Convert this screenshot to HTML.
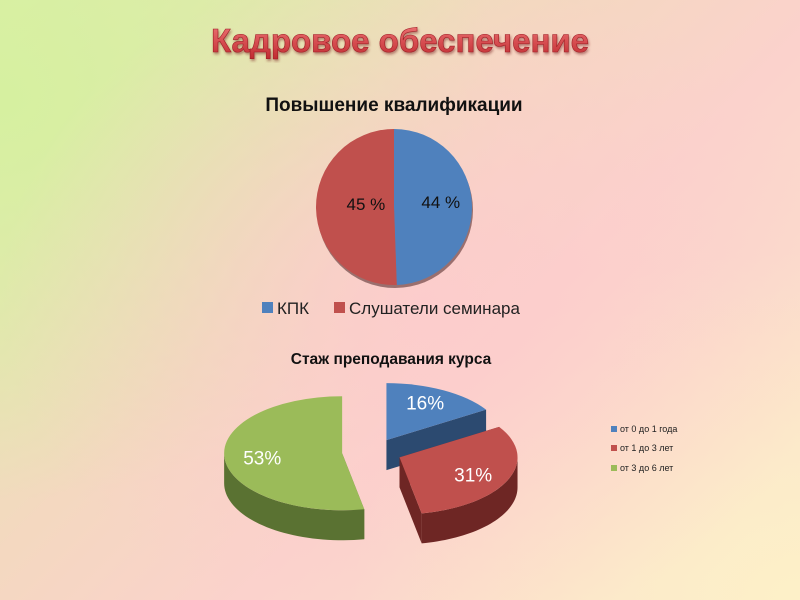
<!DOCTYPE html>
<html><head><meta charset="utf-8"><style>
html,body{margin:0;padding:0;}
body{width:800px;height:600px;overflow:hidden;position:relative;font-family:"Liberation Sans","DejaVu Sans",sans-serif;
background:
radial-gradient(ellipse 420px 340px at 420px 300px, rgba(252,204,204,0.95), rgba(252,204,204,0) 100%),
radial-gradient(ellipse 500px 400px at 0px 100px, rgba(214,240,160,1), rgba(214,240,160,0) 100%),
radial-gradient(ellipse 450px 350px at 800px 600px, rgba(253,240,200,1), rgba(253,240,200,0) 100%),
linear-gradient(135deg,#dcefaa 0%,#f4d8c0 40%,#fbd2cc 60%,#fbe8cc 100%);}
svg{position:absolute;left:0;top:0;}
</style></head><body>
<svg width="800" height="600">
<defs>
<filter id="sh"><feDropShadow dx="1" dy="2" stdDeviation="1.2" flood-color="#7a2020" flood-opacity="0.5"/></filter>
<linearGradient id="tg" x1="0" y1="0" x2="0" y2="1"><stop offset="0" stop-color="#f07878"/><stop offset="1" stop-color="#c02a30"/></linearGradient>
</defs>
<text x="400" y="52" text-anchor="middle" font-size="33" font-weight="bold" fill="url(#tg)" stroke="#a02028" stroke-width="0.6" filter="url(#sh)">Кадровое обеспечение</text>
<text x="394" y="111" text-anchor="middle" font-size="19" font-weight="bold" fill="#111">Повышение квалификации</text>
<g id="pie1"></g>
<rect x="262" y="302" width="11" height="11" fill="#4f81bd"/>
<text x="277" y="314" font-size="17" fill="#222">КПК</text>
<rect x="334" y="302" width="11" height="11" fill="#c0504d"/>
<text x="349" y="314" font-size="17" fill="#222">Слушатели семинара</text>
<text x="391" y="364" text-anchor="middle" font-size="15.5" font-weight="bold" fill="#111">Стаж преподавания курса</text>
<g id="pie2"></g>
<g>
<rect x="611" y="426" width="6" height="6" fill="#4f81bd"/>
<text x="620" y="432" font-size="9" fill="#222">от 0 до 1 года</text>
<rect x="611" y="445" width="6" height="6" fill="#c0504d"/>
<text x="620" y="451" font-size="9" fill="#222">от 1 до 3 лет</text>
<rect x="611" y="465" width="6" height="6" fill="#9bbb59"/>
<text x="620" y="471" font-size="9" fill="#222">от 3 до 6 лет</text>
</g>
</svg>
<script>
const cats1 = ['КПК','Слушатели семинара'];
const vals1 = [44,45];
const labels1 = ['44 %','45 %'];
const cats2 = ['от 0 до 1 года','от 1 до 3 лет','от 3 до 6 лет'];
const vals2 = [16,31,53];
const labels2 = ['16%','31%','53%'];
const NS='http://www.w3.org/2000/svg';
function mk(tag,attrs,parent){const e=document.createElementNS(NS,tag);for(const k in attrs)e.setAttribute(k,attrs[k]);parent.appendChild(e);return e;}
// Pie 1
(function(){
const g=document.getElementById('pie1');
const cx=394,cy=207,r=78,cols=['#4f81bd','#c0504d'];
const tot=vals1.reduce((a,b)=>a+b,0);
const sh=mk('ellipse',{cx:cx+1,cy:cy+3,rx:r,ry:r,fill:'#5a3030',opacity:0.6},g);


let a=0;
vals1.forEach((v,i)=>{
 const a0=a,a1=a+v/tot*2*Math.PI;a=a1;
 const p=t=>[cx+r*Math.sin(t),cy-r*Math.cos(t)];
 const [x0,y0]=p(a0),[x1,y1]=p(a1);
 const path=mk('path',{d:`M${cx},${cy}L${x0},${y0}A${r},${r} 0 ${a1-a0>Math.PI?1:0} 1 ${x1},${y1}Z`,fill:cols[i]},g);
 
 
 const m=(a0+a1)/2;
 const t=mk('text',{x:cx+r*(i===0?0.6:0.36)*Math.sin(m),y:cy-r*0.55*Math.cos(m)+2,'text-anchor':'middle','font-size':17,fill:'#111'},g);
 t.textContent=labels1[i];
 
 
});
})();
// Pie 2 (3D exploded)
(function(){
const g=document.getElementById('pie2');
const cx=372,cy=452,rx=118,ry=57,dep=30,ex=30;
const top=['#4f81bd','#c0504d','#9bbb59'],side=['#2c4a70','#6e2624','#5a7232'];
const tot=vals2.reduce((a,b)=>a+b,0);
const names=['0-1','1-3','3-6'];
let a=0;const sl=[];
vals2.forEach((v,i)=>{const a0=a,a1=a+v/tot*2*Math.PI;a=a1;const m=(a0+a1)/2;
 sl.push({i,a0,a1,m,ox:cx+ex*Math.sin(m),oy:cy-ex*0.45*Math.cos(m)});});
const P=(s,t,dy)=>[s.ox+rx*Math.sin(t),s.oy-ry*Math.cos(t)+(dy||0)];
sl.forEach(s=>{
 const gg=mk('g',{},g);
 
 
 [s.a0,s.a1].forEach(t=>{
  const [x,y]=P(s,t);
  mk('polygon',{points:`${s.ox},${s.oy} ${x},${y} ${x},${y+dep} ${s.ox},${s.oy+dep}`,fill:side[s.i]},gg);
 });
 const lo=Math.max(s.a0,Math.PI/2),hi=Math.min(s.a1,1.5*Math.PI);
 if(hi>lo){let pts=[];const N=40;
  for(let k=0;k<=N;k++){const t=lo+(hi-lo)*k/N;pts.push(P(s,t));}
  for(let k=N;k>=0;k--){const t=lo+(hi-lo)*k/N;pts.push(P(s,t,dep));}
  mk('polygon',{points:pts.map(p=>p.join(',')).join(' '),fill:side[s.i]},gg);}
});
sl.forEach(s=>{
 const [x0,y0]=P(s,s.a0),[x1,y1]=P(s,s.a1);
 const path=mk('path',{d:`M${s.ox},${s.oy}L${x0},${y0}A${rx},${ry} 0 ${s.a1-s.a0>Math.PI?1:0} 1 ${x1},${y1}Z`,fill:top[s.i]},g);
 
 
 const t=mk('text',{x:s.ox+rx*0.68*Math.sin(s.m),y:s.oy-ry*0.75*Math.cos(s.m)+7,'text-anchor':'middle','font-size':19,fill:'#fff'},g);
 t.textContent=labels2[s.i];
 
 
});
})();
</script>
</body></html>
